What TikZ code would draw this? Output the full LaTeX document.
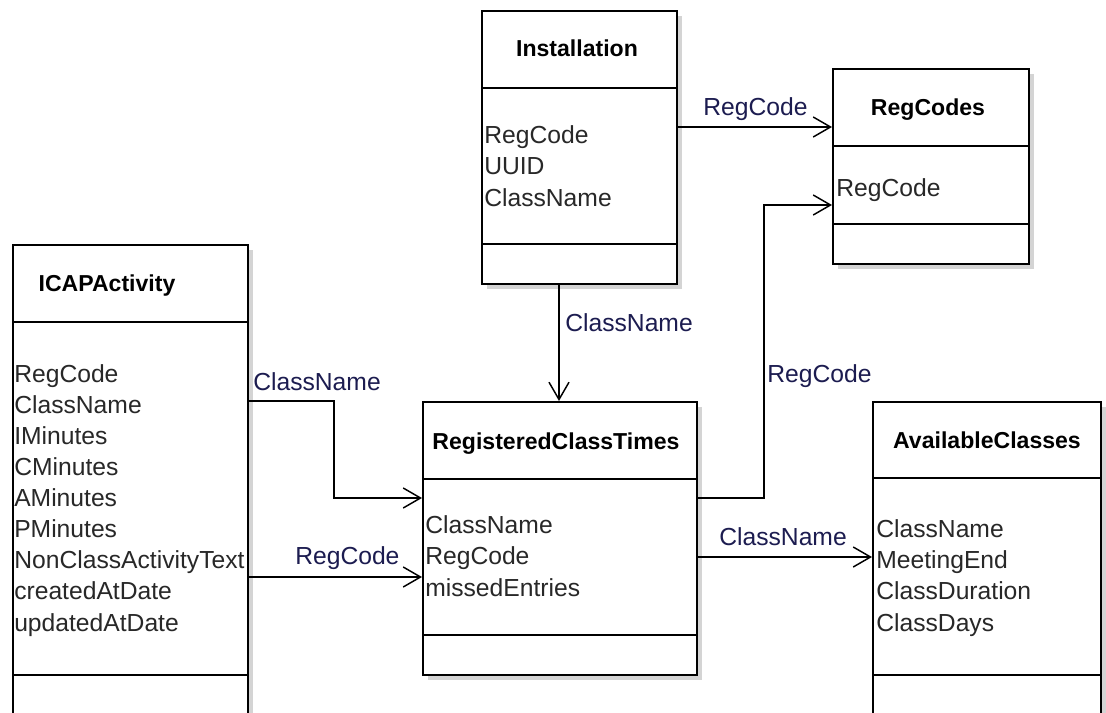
\documentclass[tikz,border=0pt]{standalone}
\usepackage{fontspec}
\setmainfont{Liberation Sans}
\usetikzlibrary{arrows.meta, shadows}

\definecolor{shadowgray}{RGB}{212,212,212}
\definecolor{labelblue}{RGB}{28,28,80}
\definecolor{attrgray}{RGB}{40,40,40}

\tikzset{
    classbox/.style 2 args = {draw, line width = 1.3pt, fill = white, anchor = north west, inner sep = 0pt,
        minimum width = #1*0.75pt, minimum height = #2*0.75pt,
        general shadow = {fill = shadowgray, shadow xshift = 3.75pt, shadow yshift = -3.75pt}},
    classname/.style = {anchor = base, inner sep = 0pt, font = \fontsize{17.3}{20}\selectfont\bfseries},
    attrs/.style = {anchor = base west, inner sep = 0pt, align = left, text = attrgray, font = \fontsize{18.5}{23.3}\selectfont},
    compart/.style = {line width = 1.3pt},
    link/.style = {line width = 1.1pt, -{Straight Barb[length = 13pt, width = 15pt]}},
    linklabel/.style = {anchor = base west, inner sep = 0pt, text = labelblue, font = \fontsize{18.5}{22}\selectfont}
}

\begin{document}
\begin{tikzpicture}[x = 0.75pt, y = -0.75pt]
    \useasboundingbox (0, 0) rectangle (1106, 713);
    \fill[white] (0, 0) rectangle (1106, 713);
    \clip (0, 0) rectangle (1106, 713);

    % classes (attrs placed at the baseline of their last line)
    \node[classbox = {195}{273}] (inst) at (481, 10) {};
    \draw[compart] (inst.west |- 0, 88) -- (inst.east |- 0, 88);
    \draw[compart] (inst.west |- 0, 244) -- (inst.east |- 0, 244);
    \node[classname] (inst-title) at (577, 57) {Installation};
    \node[attrs] (inst-attrs) at (484, 206) {RegCode\\UUID\\ClassName};

    \node[classbox = {196}{195}] (regc) at (832, 68) {};
    \draw[compart] (regc.west |- 0, 146) -- (regc.east |- 0, 146);
    \draw[compart] (regc.west |- 0, 224) -- (regc.east |- 0, 224);
    \node[classname] (regc-title) at (928, 116) {RegCodes};
    \node[attrs] (regc-attrs) at (836, 196) {RegCode};

    \node[classbox = {235}{500}] (icap) at (12, 244) {};
    \draw[compart] (icap.west |- 0, 322) -- (icap.east |- 0, 322);
    \draw[compart] (icap.west |- 0, 675) -- (icap.east |- 0, 675);
    \node[classname] (icap-title) at (107, 291) {ICAPActivity};
    \node[attrs] (icap-attrs) at (14, 631) {RegCode\\ClassName\\IMinutes\\CMinutes\\AMinutes\\PMinutes\\NonClassActivityText\\createdAtDate\\updatedAtDate};

    \node[classbox = {274}{273}] (rct) at (422, 401) {};
    \draw[compart] (rct.west |- 0, 479) -- (rct.east |- 0, 479);
    \draw[compart] (rct.west |- 0, 635) -- (rct.east |- 0, 635);
    \node[classname] (rct-title) at (556, 449) {RegisteredClassTimes};
    \node[attrs] (rct-attrs) at (425, 596) {ClassName\\RegCode\\missedEntries};

    \node[classbox = {228}{400}] (avail) at (872, 401) {};
    \draw[compart] (avail.west |- 0, 478) -- (avail.east |- 0, 478);
    \draw[compart] (avail.west |- 0, 675) -- (avail.east |- 0, 675);
    \node[classname] (avail-title) at (987, 448) {AvailableClasses};
    \node[attrs] (avail-attrs) at (876, 631) {ClassName\\MeetingEnd\\ClassDuration\\ClassDays};

    % relations
    \draw[link] (inst.east |- 0, 127) -- (regc.west |- 0, 127);
    \draw[link] (inst.south -| 559, 0) -- (rct.north -| 559, 0);
    \draw[link] (icap.east |- 0, 401) -| (334, 498) -- (rct.west |- 0, 498);
    \draw[link] (icap.east |- 0, 577) -- (rct.west |- 0, 577);
    \draw[link] (rct.east |- 0, 498) -| (764, 205) -- (regc.west |- 0, 205);
    \draw[link] (rct.east |- 0, 557) -- (avail.west |- 0, 557);

    \node[linklabel] (lbl-inst-regc) at (703, 116) {RegCode};
    \node[linklabel] (lbl-inst-rct) at (565, 331) {ClassName};
    \node[linklabel] (lbl-icap-name) at (253, 390) {ClassName};
    \node[linklabel] (lbl-icap-code) at (295, 564) {RegCode};
    \node[linklabel] (lbl-rct-regc) at (767, 382) {RegCode};
    \node[linklabel] (lbl-rct-avail) at (719, 545) {ClassName};
\end{tikzpicture}
\end{document}
